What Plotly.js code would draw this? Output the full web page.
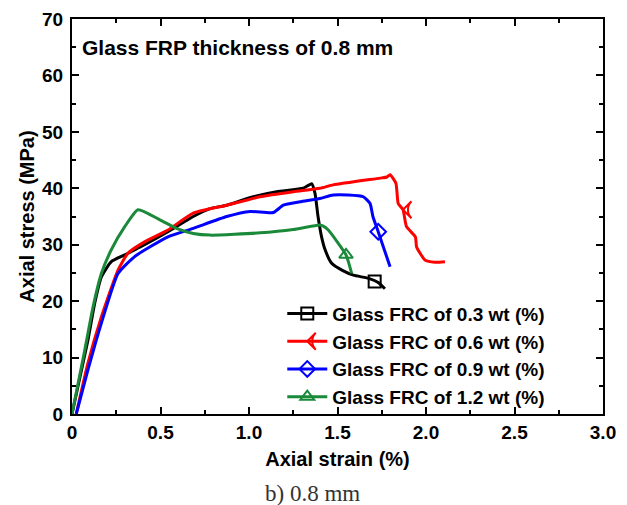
<!DOCTYPE html>
<html>
<head>
<meta charset="utf-8">
<script src="https://cdn.plot.ly/plotly-3.0.1.min.js"></script>
<style>html,body{margin:0;padding:0;background:#fff;}#chart{width:627px;height:505px;}</style>
</head>
<body>
<div id="chart"></div>
<script>
// Series names and styles
const seriesNames = ["Glass FRC of 0.3 wt (%)", "Glass FRC of 0.6 wt (%)", "Glass FRC of 0.9 wt (%)", "Glass FRC of 1.2 wt (%)"];
const seriesColors = ["#000000", "#ff0000", "#0000ff", "#1a8a3a"];
const seriesSymbols = ["square-open", "arrow-wide-open", "diamond-open", "triangle-up-open"];
const seriesAngles = [0, -90, 0, 0];

// Axis ticks
const xTickVals = [0, 0.5, 1.0, 1.5, 2.0, 2.5, 3.0];
const xTickText = ["0", "0.5", "1.0", "1.5", "2.0", "2.5", "3.0"];
const yTickVals = [0, 10, 20, 30, 40, 50, 60, 70];

// Glass FRC 0.3 wt (%)
const strain03 = [0, 0.09, 0.128, 0.166, 0.222, 0.298, 0.41, 0.542, 0.685, 0.78, 0.874, 1.024, 1.156, 1.307, 1.354, 1.373, 1.39, 1.41, 1.43, 1.467, 1.53, 1.59, 1.68, 1.73, 1.768];
const stress03 = [0, 13.1, 19.6, 24.3, 27.0, 28.2, 30.0, 32.3, 35.0, 36.4, 37.0, 38.5, 39.4, 40.0, 40.8, 39.1, 35.0, 31.4, 29.1, 26.7, 25.4, 24.6, 24.0, 23.3, 22.2];

// Glass FRC 0.6 wt (%)
const strain06 = [0.024, 0.09, 0.166, 0.26, 0.316, 0.41, 0.542, 0.685, 0.874, 1.062, 1.25, 1.4, 1.476, 1.74, 1.78, 1.797, 1.83, 1.843, 1.87, 1.89, 1.94, 1.947, 1.994, 2.05, 2.107];
const stress06 = [0, 9.0, 17.2, 25.5, 28.5, 30.5, 32.6, 35.6, 37.0, 38.5, 39.4, 40.0, 40.6, 41.8, 42.0, 42.4, 40.9, 37.3, 36.2, 33.2, 31.4, 29.6, 27.3, 26.9, 27.0];

// Glass FRC 0.9 wt (%)
const strain09 = [0.024, 0.09, 0.166, 0.26, 0.354, 0.542, 0.685, 0.874, 1.006, 1.137, 1.194, 1.288, 1.40, 1.476, 1.56, 1.646, 1.684, 1.70, 1.73, 1.797];
const stress09 = [0, 7.8, 16.1, 24.9, 27.9, 31.4, 32.9, 35.0, 35.9, 35.7, 37.0, 37.6, 38.2, 38.8, 38.8, 38.5, 37.3, 35.0, 32.3, 26.1];

// Glass FRC 1.2 wt (%)
const strain12 = [0, 0.072, 0.119, 0.166, 0.222, 0.298, 0.373, 0.497, 0.59, 0.685, 0.78, 1.062, 1.25, 1.40, 1.42, 1.448, 1.548, 1.58];
const stress12 = [0, 11.3, 19.0, 24.9, 29.1, 33.2, 36.2, 34.4, 32.9, 32.0, 31.7, 32.1, 32.7, 33.5, 33.3, 32.6, 28.2, 24.9];

// Single marker positions on each curve
const markerStrain = [1.71, 1.87, 1.73, 1.548];
const markerStress = [23.5, 36.2, 32.3, 28.2];

const xs = [strain03, strain06, strain09, strain12];
const ys = [stress03, stress06, stress09, stress12];

const traces = [];
for (let i = 0; i < 4; i++) {
  traces.push({
    x: xs[i], y: ys[i], type: 'scatter', mode: 'lines',
    line: {color: seriesColors[i], width: 3, shape: 'spline', smoothing: 0.5},
    showlegend: false, hoverinfo: 'skip'
  });
}
for (let i = 0; i < 4; i++) {
  traces.push({
    x: [markerStrain[i]], y: [markerStress[i]], type: 'scatter', mode: 'lines+markers',
    name: seriesNames[i],
    line: {color: seriesColors[i], width: 3},
    marker: {symbol: seriesSymbols[i], angle: seriesAngles[i], size: 12, color: seriesColors[i],
             line: {color: seriesColors[i], width: 2}}
  });
}

const fam = 'Liberation Sans, Arial, sans-serif';
const tickFont = {family: fam, size: 19, color: '#000', weight: 'bold'};
const titleFont = {family: fam, size: 20, color: '#000', weight: 'bold'};

const layout = {
  width: 627, height: 505,
  margin: {l: 72, r: 24, t: 19, b: 91},
  paper_bgcolor: '#fff', plot_bgcolor: '#fff',
  showlegend: true,
  legend: {x: 0.396, y: 0.302, xanchor: 'left', yanchor: 'top', bgcolor: 'rgba(0,0,0,0)',
    font: {family: fam, size: 19, color: '#000', weight: 'bold'},
    itemwidth: 40, tracegroupgap: 0},
  xaxis: {
    range: [0, 3.0], tickvals: xTickVals, ticktext: xTickText,
    showgrid: false, zeroline: false, showline: true, linecolor: '#000', linewidth: 2, mirror: 'ticks',
    ticks: 'inside', ticklen: 7, tickwidth: 2, tickcolor: '#000',
    minor: {dtick: 0.25, tick0: 0, ticks: 'inside', ticklen: 4, tickwidth: 2, tickcolor: '#000', showgrid: false},
    tickfont: tickFont,
    title: {text: 'Axial strain (%)', font: titleFont, standoff: 10}
  },
  yaxis: {
    range: [0, 70], tickvals: yTickVals,
    showgrid: false, zeroline: false, showline: true, linecolor: '#000', linewidth: 2, mirror: 'ticks',
    ticks: 'inside', ticklen: 7, tickwidth: 2, tickcolor: '#000',
    minor: {dtick: 5, tick0: 0, ticks: 'inside', ticklen: 4, tickwidth: 2, tickcolor: '#000', showgrid: false},
    tickfont: tickFont, ticklabelstandoff: 3,
    title: {text: 'Axial stress (MPa)', font: titleFont, standoff: 2}
  },
  annotations: [
    {text: 'Glass FRP thickness of 0.8 mm', xref: 'paper', yref: 'paper', x: 0.015, y: 0.929,
     xanchor: 'left', yanchor: 'middle', showarrow: false,
     font: {family: fam, size: 21, color: '#000', weight: 'bold'}},
    {text: 'b) 0.8 mm', xref: 'paper', yref: 'paper', x: 0.452, y: -0.2,
     xanchor: 'center', yanchor: 'middle', showarrow: false,
     font: {family: 'Liberation Serif, Times New Roman, serif', size: 23, color: '#333'}}
  ]
};

Plotly.newPlot('chart', traces, layout, {displayModeBar: false, staticPlot: true});
</script>
</body>
</html>
